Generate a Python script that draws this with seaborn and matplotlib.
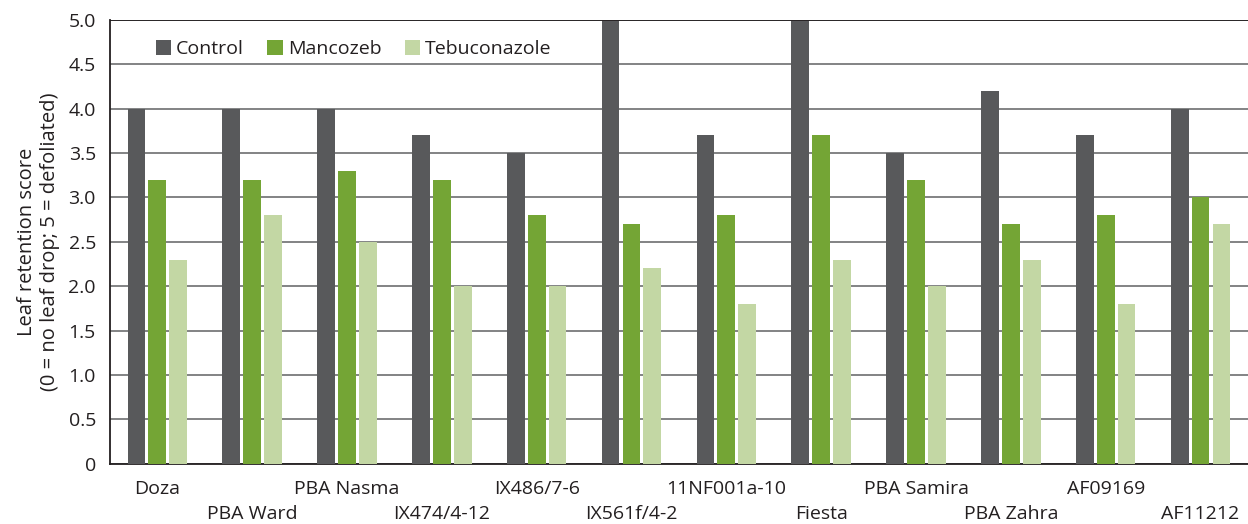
import matplotlib
matplotlib.use("Agg")
import matplotlib.pyplot as plt
import matplotlib.ticker as mticker
import pandas as pd
import seaborn as sns

variedades = ["Doza", "PBA Ward", "PBA Nasma", "IX474/4-12", "IX486/7-6", "IX561f/4-2",
              "11NF001a-10", "Fiesta", "PBA Samira", "PBA Zahra", "AF09169", "AF11212"]
tratamientos = ["Control", "Mancozeb", "Tebuconazole"]
control = [4.0, 4.0, 4.0, 3.7, 3.5, 5.0, 3.7, 5.0, 3.5, 4.2, 3.7, 4.0]
mancozeb = [3.2, 3.2, 3.3, 3.2, 2.8, 2.7, 2.8, 3.7, 3.2, 2.7, 2.8, 3.0]
tebuconazole = [2.3, 2.8, 2.5, 2.0, 2.0, 2.2, 1.8, 2.3, 2.0, 2.3, 1.8, 2.7]
colores = ["#58595b", "#74a535", "#c3d7a4"]

filas = []
for serie, valores in zip(tratamientos, [control, mancozeb, tebuconazole]):
    for v, val in zip(variedades, valores):
        filas.append({"variedad": v, "tratamiento": serie, "valor": val})
df = pd.DataFrame(filas)

sns.set_style("white")
plt.rcParams["font.family"] = ["Open Sans", "DejaVu Sans"]

fig = plt.figure(figsize=(12.48, 5.24), dpi=100)
ax = fig.add_axes([0.088, 0.115, 0.912, 0.847])

sns.barplot(data=df, x="variedad", y="valor", hue="tratamiento", order=variedades,
            hue_order=tratamientos, palette=colores, width=0.66, gap=0.15,
            saturation=1, errorbar=None, ax=ax, zorder=3, linewidth=0)

ax.set_ylim(0, 5)
ax.set_xlim(-0.5, len(variedades) - 0.5)
ax.yaxis.set_major_locator(mticker.MultipleLocator(0.5))
ax.yaxis.set_major_formatter(mticker.FuncFormatter(lambda v, p: "0" if v == 0 else f"{v:.1f}"))
ax.grid(axis="y", color="#6d6e70", linewidth=1.2, zorder=0)
ax.set_axisbelow(True)

etiquetas = [v if i % 2 == 0 else "\n" + v for i, v in enumerate(variedades)]
ax.set_xticks(range(len(variedades)))
ax.set_xticklabels(etiquetas, fontsize=14, color="#231f20", linespacing=1.45)
ax.tick_params(axis="x", length=0, pad=12)
ax.tick_params(axis="y", length=0, pad=10, labelsize=14, labelcolor="#231f20")

ax.set_xlabel("")
ax.set_ylabel("Leaf retention score\n(0 = no leaf drop; 5 = defoliated)", fontsize=14.5,
              color="#231f20", labelpad=6)

for lado in ["top", "right"]:
    ax.spines[lado].set_visible(False)
for lado in ["left", "bottom"]:
    ax.spines[lado].set_color("#231f20")
    ax.spines[lado].set_linewidth(1.3)
ax.axhline(5, color="#231f20", linewidth=1.3, zorder=4)

leg = ax.legend(loc="upper left", bbox_to_anchor=(0.025, 0.995), ncol=3, frameon=False,
                fontsize=14, handlelength=0.8, handleheight=0.8, handletextpad=0.25,
                columnspacing=1.2)
for t in leg.get_texts():
    t.set_color("#231f20")

fig.savefig("out.png", dpi=100)
